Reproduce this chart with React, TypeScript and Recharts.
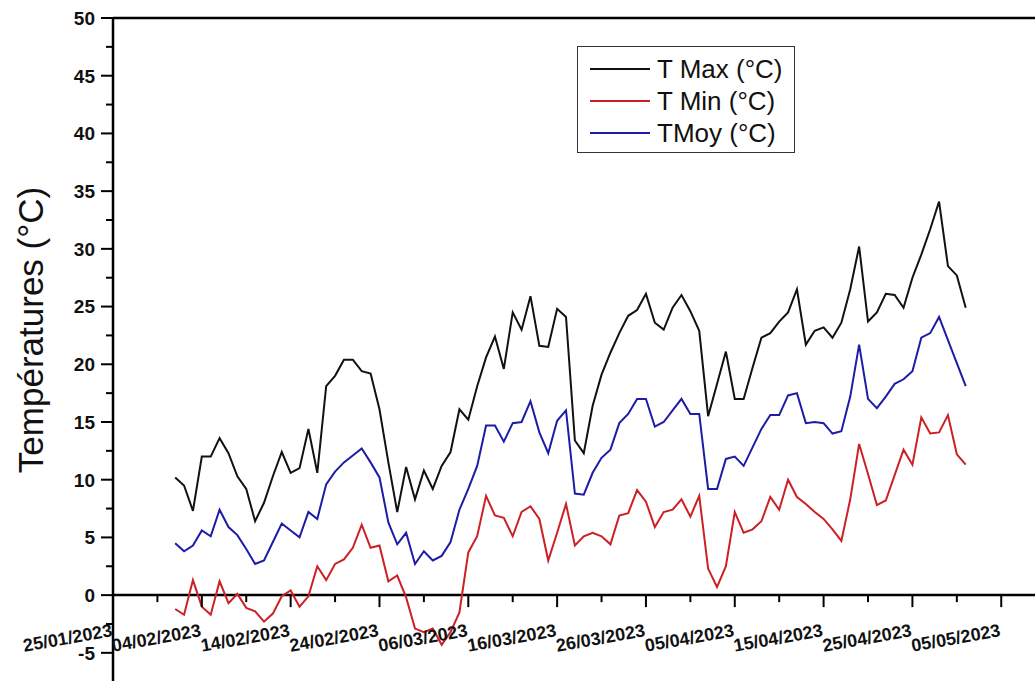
import React from "react";
import { LineChart, Line, XAxis, YAxis, ReferenceLine, Legend } from "recharts";

// day offsets are counted from 25/01/2023; first reading is 01/02/2023
const START_DAY = 7;

const tMax = [
  10.2, 9.5, 7.3, 12.0, 12.0, 13.6, 12.3, 10.3, 9.2, 6.4,
  8.0, 10.3, 12.4, 10.6, 11.0, 14.4, 10.6, 18.1, 19.0, 20.4,
  20.4, 19.4, 19.2, 16.1, 11.5, 7.2, 11.1, 8.3, 10.8, 9.2,
  11.2, 12.4, 16.1, 15.2, 18.1, 20.6, 22.4, 19.6, 24.5, 23.0,
  25.9, 21.6, 21.5, 24.8, 24.1, 13.4, 12.3, 16.4, 19.1, 21.0,
  22.7, 24.2, 24.7, 26.1, 23.6, 23.0, 24.9, 26.0, 24.6, 22.9,
  15.5, 18.3, 21.1, 17.0, 17.0, 19.7, 22.3, 22.7, 23.7, 24.5,
  26.5, 21.7, 22.9, 23.2, 22.3, 23.6, 26.5, 30.2, 23.7, 24.5,
  26.1, 26.0, 24.9, 27.5, 29.5, 31.7, 34.1, 28.5, 27.7, 24.9,
];

const tMin = [
  -1.2, -1.7, 1.3, -1.0, -1.7, 1.2, -0.7, 0.1, -1.1, -1.4,
  -2.3, -1.6, -0.1, 0.4, -1.0, -0.1, 2.5, 1.3, 2.7, 3.1,
  4.1, 6.1, 4.1, 4.3, 1.2, 1.7, -0.2, -2.9, -3.2, -2.9,
  -4.3, -3.2, -1.5, 3.7, 5.1, 8.6, 6.9, 6.7, 5.1, 7.2,
  7.7, 6.6, 3.0, 5.4, 7.9, 4.3, 5.1, 5.4, 5.1, 4.4,
  6.9, 7.1, 9.1, 8.1, 5.9, 7.2, 7.4, 8.3, 6.8, 8.6,
  2.3, 0.7, 2.5, 7.2, 5.4, 5.7, 6.4, 8.5, 7.4, 10.0,
  8.5, 7.9, 7.2, 6.6, 5.7, 4.7, 8.3, 13.1, 10.5, 7.8,
  8.2, 10.4, 12.6, 11.3, 15.4, 14.0, 14.1, 15.6, 12.2, 11.3,
];

const tMoy = [
  4.5, 3.8, 4.3, 5.6, 5.1, 7.4, 5.9, 5.2, 4.0, 2.7,
  3.0, 4.6, 6.2, 5.6, 5.0, 7.2, 6.6, 9.6, 10.7, 11.5,
  12.1, 12.7, 11.5, 10.2, 6.3, 4.4, 5.4, 2.7, 3.8, 3.0,
  3.4, 4.6, 7.4, 9.2, 11.2, 14.7, 14.7, 13.3, 14.9, 15.0,
  16.8, 14.1, 12.3, 15.1, 16.0, 8.8, 8.7, 10.6, 11.9, 12.6,
  14.9, 15.7, 17.0, 17.0, 14.6, 15.0, 16.0, 17.0, 15.7, 15.7,
  9.2, 9.2, 11.8, 12.0, 11.2, 12.8, 14.4, 15.6, 15.6, 17.3,
  17.5, 14.9, 15.0, 14.9, 14.0, 14.2, 17.2, 21.7, 17.0, 16.2,
  17.2, 18.3, 18.7, 19.4, 22.3, 22.7, 24.1, 22.1, 20.1, 18.1,
];

const dateLabels = [
  "25/01/2023", "04/02/2023", "14/02/2023", "24/02/2023", "06/03/2023",
  "16/03/2023", "26/03/2023", "05/04/2023", "15/04/2023", "25/04/2023", "05/05/2023",
];
const xMajor = [0, 10, 20, 30, 40, 50, 60, 70, 80, 90, 100];
const xMinor = [5, 15, 25, 35, 45, 55, 65, 75, 85, 95];
const yMajor = [-5, 0, 5, 10, 15, 20, 25, 30, 35, 40, 45, 50];
const yMinor = [-2.5, 2.5, 7.5, 12.5, 17.5, 22.5, 27.5, 32.5, 37.5, 42.5, 47.5];

const series = [
  { key: "tmax", name: "T Max (°C)", color: "#111111" },
  { key: "tmin", name: "T Min (°C)", color: "#cc2024" },
  { key: "tmoy", name: "TMoy (°C)", color: "#1c1ca6" },
];

const W = 1035;
const H = 682;
const MARGIN = { top: 18, right: 0, bottom: 0, left: 0 };
const X_AXIS_H = 1; // the axis is drawn on the zero line, it needs no room below
const AXIS_W = 113;
const Y_MIN = -7.44;
const Y_MAX = 50;
const X_MAX = 103.8;
const PLOT_H = H - MARGIN.top - MARGIN.bottom - X_AXIS_H;
const ZERO_Y = MARGIN.top + PLOT_H * (Y_MAX / (Y_MAX - Y_MIN));
const FONT = "'Liberation Sans', Arial, sans-serif";

const data = tMax.map((v, i) => ({
  day: START_DAY + i,
  tmax: v,
  tmin: tMin[i],
  tmoy: tMoy[i],
}));

const xTicks = [...xMajor, ...xMinor].sort((a, b) => a - b);
const yTicks = [...yMajor, ...yMinor].sort((a, b) => a - b);

function XTick(props: any) {
  const { x, payload } = props;
  const idx = xMajor.indexOf(payload.value);
  const major = idx >= 0;
  const ly = ZERO_Y + 41;
  return (
    <g>
      <line x1={x} x2={x} y1={ZERO_Y} y2={ZERO_Y + (major ? 12 : 7)} stroke="#000" strokeWidth={2} />
      {major && (
        <text
          x={x}
          y={ly}
          textAnchor="end"
          transform={`rotate(-10 ${x} ${ly})`}
          fontFamily={FONT}
          fontWeight="bold"
          fontSize={18}
          fill="#111"
        >
          {dateLabels[idx]}
        </text>
      )}
    </g>
  );
}

function YTick(props: any) {
  const { y, payload } = props;
  const major = yMajor.includes(payload.value);
  return (
    <g>
      <line x1={AXIS_W - (major ? 12 : 7)} x2={AXIS_W} y1={y} y2={y} stroke="#000" strokeWidth={2} />
      {major && (
        <text
          x={95}
          y={y}
          dy="0.36em"
          textAnchor="end"
          fontFamily={FONT}
          fontWeight="bold"
          fontSize={19}
          fill="#111"
        >
          {payload.value}
        </text>
      )}
    </g>
  );
}

function LegendBox() {
  return (
    <div
      style={{
        border: "1.5px solid #333",
        background: "#fff",
        padding: "6px 12px 3px 12px",
        fontFamily: FONT,
        fontSize: 26,
        lineHeight: "32px",
        color: "#111",
      }}
    >
      {series.map((s) => (
        <div key={s.key} style={{ display: "flex", alignItems: "center" }}>
          <span
            style={{
              display: "inline-block",
              width: 60,
              height: 0,
              borderTop: `2px solid ${s.color}`,
              marginRight: 7,
            }}
          />
          {s.name}
        </div>
      ))}
    </div>
  );
}

export default function App() {
  return (
    <div style={{ position: "absolute", left: 0, top: 0, width: W, height: H, background: "#fff" }}>
      <LineChart width={W} height={H} data={data} margin={MARGIN}>
        <XAxis
          type="number"
          dataKey="day"
          domain={[0, X_MAX]}
          ticks={xTicks}
          interval={0}
          height={X_AXIS_H}
          axisLine={false}
          tickLine={false}
          tickSize={0}
          tickMargin={0}
          tick={<XTick />}
        />
        <YAxis
          type="number"
          domain={[Y_MIN, Y_MAX]}
          ticks={yTicks}
          interval={0}
          width={AXIS_W}
          axisLine={{ stroke: "#000", strokeWidth: 2.5 }}
          tickLine={false}
          tickSize={0}
          tickMargin={0}
          tick={<YTick />}
          label={{
            content: () => (
              <text
                x={43}
                y={330}
                textAnchor="middle"
                transform="rotate(-90 43 330)"
                fontFamily={FONT}
                fontSize={35}
                fill="#111"
              >
                Températures (°C)
              </text>
            ),
          }}
        />
        <ReferenceLine y={0} stroke="#000" strokeWidth={2.5} />
        <ReferenceLine y={Y_MAX} stroke="#000" strokeWidth={2.5} />
        {series.map((s) => (
          <Line
            key={s.key}
            type="linear"
            dataKey={s.key}
            name={s.name}
            stroke={s.color}
            strokeWidth={2}
            dot={false}
            isAnimationActive={false}
          />
        ))}
        <Legend
          layout="vertical"
          align="center"
          verticalAlign="middle"
          wrapperStyle={{ left: 577, top: 46, width: "auto", height: "auto" }}
          content={() => <LegendBox />}
        />
      </LineChart>
    </div>
  );
}
